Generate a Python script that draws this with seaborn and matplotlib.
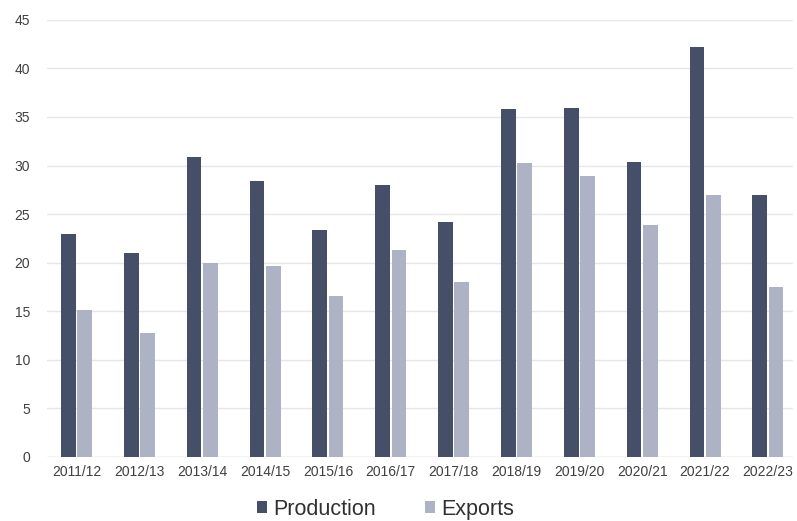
import matplotlib
matplotlib.use("Agg")
import matplotlib.pyplot as plt
import seaborn as sns
import pandas as pd

seasons = ["2011/12", "2012/13", "2013/14", "2014/15", "2015/16", "2016/17",
           "2017/18", "2018/19", "2019/20", "2020/21", "2021/22", "2022/23"]
production = [22.9, 21.0, 30.9, 28.4, 23.4, 28.0, 24.2, 35.8, 35.9, 30.4, 42.2, 27.0]
exports = [15.1, 12.8, 20.0, 19.7, 16.6, 21.3, 18.0, 30.3, 28.9, 23.9, 27.0, 17.5]
series_names = ["Production", "Exports"]
colors = ["#454f68", "#adb2c5"]
y_ticks = list(range(0, 50, 5))

df = pd.DataFrame({
    "season": seasons * 2,
    "value": production + exports,
    "series": [series_names[0]] * len(seasons) + [series_names[1]] * len(seasons),
})

sns.set_theme(style="white")
plt.rcParams["font.family"] = ["Liberation Sans", "DejaVu Sans"]

fig = plt.figure(figsize=(7.97, 5.21), dpi=100)
ax = fig.add_axes([0.059, 0.123, 0.936, 0.839])

sns.barplot(data=df, x="season", y="value", hue="series", order=seasons,
            hue_order=series_names, palette=colors, width=0.52, gap=0.1,
            saturation=1, linewidth=0, ax=ax, legend=True)

ax.set_ylim(0, 45)
ax.set_yticks(y_ticks)
ax.set_xlim(-0.47, 11.4)
ax.yaxis.grid(True, color="#e6e6e6", linewidth=1)
ax.set_axisbelow(True)
for s in ax.spines.values():
    s.set_visible(False)
ax.axhline(0, color="#d9d9d9", linewidth=1, zorder=0)
ax.set_xlabel("")
ax.set_ylabel("")
ax.tick_params(axis="y", labelsize=10, colors="#404040", length=0, pad=12)
ax.tick_params(axis="x", labelsize=10, colors="#404040", length=0, pad=6)

handles, labels = ax.get_legend_handles_labels()
ax.get_legend().remove()
fig.legend(handles, labels, loc="center", bbox_to_anchor=(0.484, 0.023),
           ncol=2, frameon=False, fontsize=15.5, handlelength=0.45,
           handleheight=0.45, handletextpad=0.3, columnspacing=2.3,
           labelcolor="#303030")

fig.savefig("out.png", dpi=100)
